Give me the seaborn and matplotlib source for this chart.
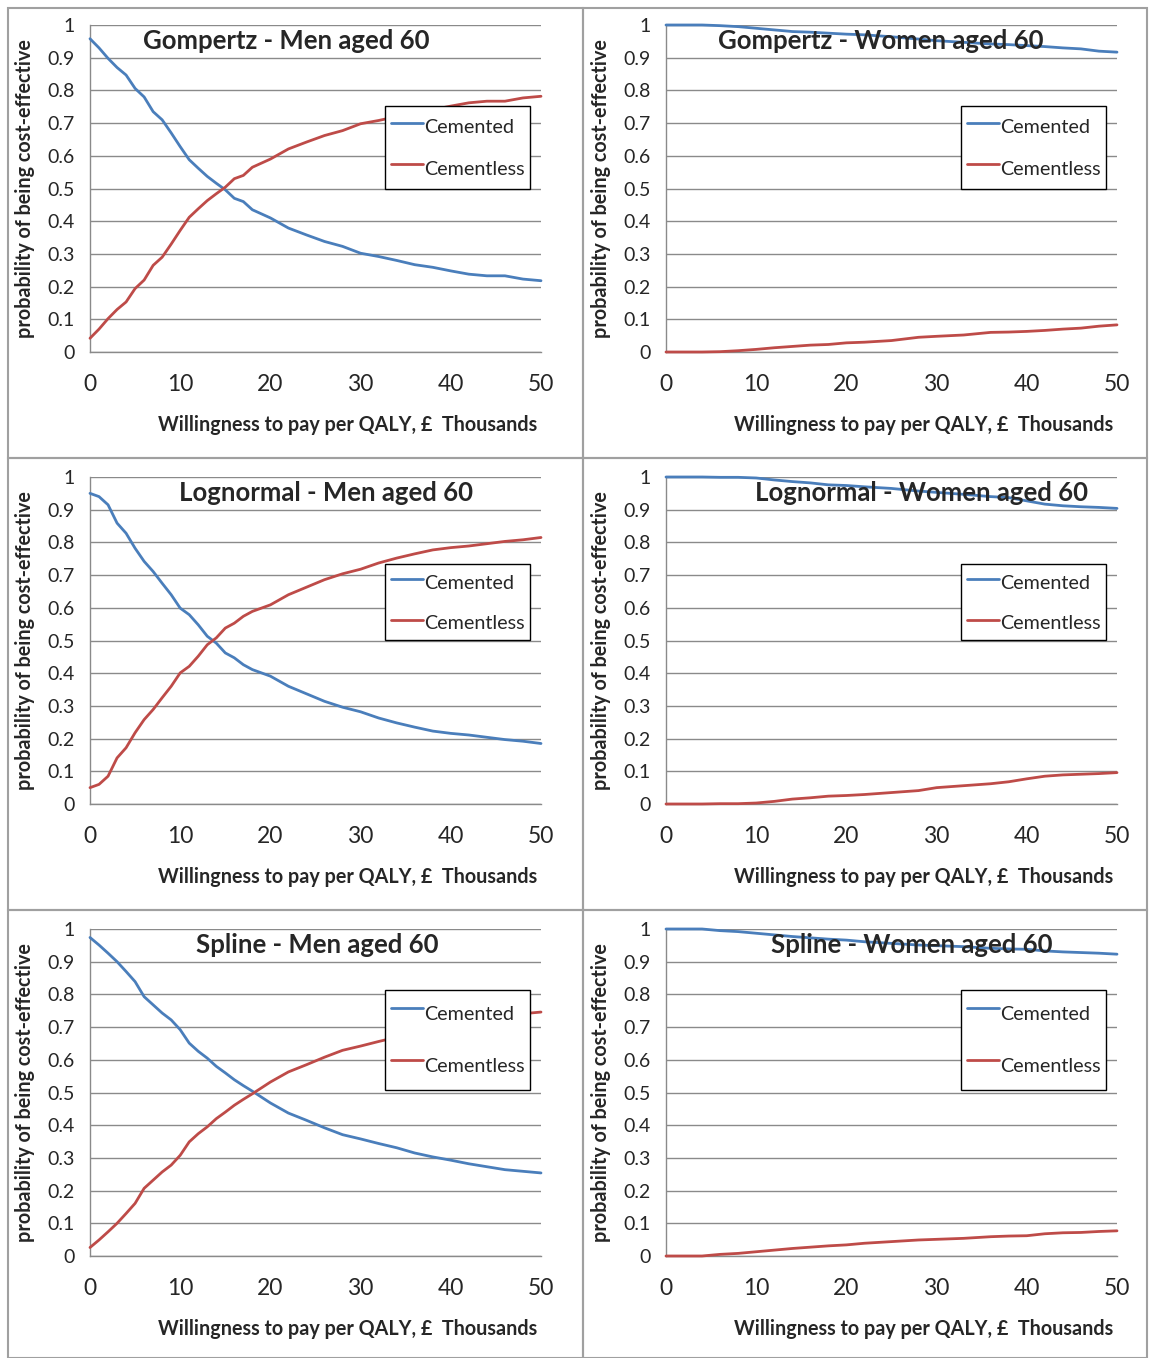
import numpy as np
import pandas as pd
import matplotlib
matplotlib.use('Agg')
import matplotlib.pyplot as plt
import seaborn as sns
from matplotlib.patches import Rectangle

# --- Datos (probabilidad de ser coste-efectivo) ---
# Eje x: disposición a pagar por AVAC, miles de £
wtp_hombres = list(range(0, 19)) + list(range(20, 51, 2))
wtp_mujeres = [0, 2, 4, 6, 8, 10, 12, 14, 16, 18, 20, 22, 25, 28, 30, 33, 36, 38, 40, 42, 44, 46, 48, 50]

# Gompertz - hombres
gomp_h_cemented = [0.958, 0.93, 0.898, 0.87, 0.847, 0.806, 0.78, 0.735, 0.71, 0.67, 0.628, 0.588, 0.562,
                   0.537, 0.516, 0.496, 0.47, 0.46, 0.435, 0.41, 0.379, 0.358, 0.338, 0.323, 0.302, 0.292,
                   0.28, 0.267, 0.259, 0.248, 0.238, 0.233, 0.233, 0.223, 0.218]
gomp_h_cementless = [0.042, 0.07, 0.102, 0.13, 0.153, 0.194, 0.22, 0.265, 0.29, 0.33, 0.372, 0.412, 0.438,
                     0.463, 0.484, 0.504, 0.53, 0.54, 0.565, 0.59, 0.621, 0.642, 0.662, 0.677, 0.698, 0.708,
                     0.72, 0.733, 0.741, 0.752, 0.762, 0.767, 0.767, 0.777, 0.782]

# Gompertz - mujeres
gomp_m_cemented = [1.0, 1.0, 1.0, 0.998, 0.995, 0.99, 0.985, 0.98, 0.978, 0.975, 0.972, 0.97, 0.964, 0.957,
                   0.952, 0.947, 0.942, 0.94, 0.937, 0.934, 0.93, 0.927, 0.92, 0.917]
gomp_m_cementless = [0.0, 0.0, 0.0, 0.001, 0.004, 0.008, 0.013, 0.017, 0.021, 0.023, 0.028, 0.03, 0.035,
                     0.045, 0.048, 0.052, 0.06, 0.061, 0.063, 0.066, 0.07, 0.073, 0.079, 0.083]

# Lognormal - hombres
logn_h_cemented = [0.95, 0.94, 0.915, 0.859, 0.828, 0.782, 0.742, 0.711, 0.675, 0.64, 0.599, 0.579, 0.548,
                   0.513, 0.492, 0.462, 0.447, 0.426, 0.411, 0.391, 0.36, 0.337, 0.314, 0.296, 0.282, 0.263,
                   0.248, 0.235, 0.223, 0.216, 0.211, 0.204, 0.197, 0.192, 0.185]
logn_h_cementless = [0.05, 0.06, 0.085, 0.141, 0.172, 0.218, 0.258, 0.289, 0.325, 0.36, 0.401, 0.421, 0.452,
                     0.487, 0.508, 0.538, 0.553, 0.574, 0.589, 0.609, 0.64, 0.663, 0.686, 0.704, 0.718, 0.737,
                     0.752, 0.765, 0.777, 0.784, 0.789, 0.796, 0.803, 0.808, 0.815]

# Lognormal - mujeres
logn_m_cemented = [1.0, 1.0, 1.0, 0.999, 0.999, 0.997, 0.991, 0.986, 0.982, 0.976, 0.974, 0.97, 0.965,
                   0.957, 0.953, 0.947, 0.94, 0.937, 0.927, 0.917, 0.912, 0.909, 0.907, 0.904]
logn_m_cementless = [0.0, 0.0, 0.0, 0.001, 0.001, 0.003, 0.008, 0.015, 0.019, 0.024, 0.026, 0.029, 0.035,
                     0.041, 0.05, 0.056, 0.062, 0.068, 0.077, 0.085, 0.089, 0.091, 0.093, 0.096]

# Spline - hombres
spl_h_cemented = [0.974, 0.951, 0.926, 0.9, 0.87, 0.839, 0.793, 0.768, 0.743, 0.722, 0.692, 0.651, 0.626,
                  0.605, 0.58, 0.56, 0.539, 0.521, 0.504, 0.468, 0.437, 0.415, 0.392, 0.371, 0.358, 0.344,
                  0.331, 0.315, 0.303, 0.293, 0.282, 0.273, 0.264, 0.259, 0.254]
spl_h_cementless = [0.026, 0.049, 0.074, 0.1, 0.13, 0.161, 0.207, 0.232, 0.257, 0.278, 0.308, 0.349, 0.374,
                    0.395, 0.42, 0.44, 0.461, 0.479, 0.496, 0.532, 0.563, 0.585, 0.608, 0.629, 0.642, 0.656,
                    0.669, 0.685, 0.697, 0.707, 0.718, 0.727, 0.736, 0.741, 0.746]

# Spline - mujeres
spl_m_cemented = [1.0, 1.0, 1.0, 0.995, 0.992, 0.987, 0.982, 0.977, 0.973, 0.969, 0.966, 0.961, 0.956,
                  0.951, 0.949, 0.946, 0.941, 0.939, 0.938, 0.933, 0.93, 0.928, 0.926, 0.923]
spl_m_cementless = [0.0, 0.0, 0.0, 0.005, 0.008, 0.013, 0.018, 0.023, 0.027, 0.031, 0.034, 0.039, 0.044,
                    0.049, 0.051, 0.054, 0.059, 0.061, 0.062, 0.068, 0.071, 0.072, 0.075, 0.077]

titulos = ['Gompertz - Men aged 60', 'Gompertz - Women aged 60',
           'Lognormal - Men aged 60', 'Lognormal - Women aged 60',
           'Spline - Men aged 60', 'Spline - Women aged 60']

AZUL = '#4A7EBB'
ROJO = '#BE4B48'
GRIS = '#8a8a8a'


def dibujar_panel(ax, titulo, x, cemented, cementless, titulo_x, leyenda_y, espaciado, alto_fila):
    """Dibuja una curva de aceptabilidad coste-efectividad al estilo Excel."""
    df = pd.DataFrame({
        'wtp': list(x) * 2,
        'prob': list(cemented) + list(cementless),
        'serie': ['Cemented'] * len(x) + ['Cementless'] * len(x),
    })
    sns.lineplot(data=df, x='wtp', y='prob', hue='serie', palette={'Cemented': AZUL, 'Cementless': ROJO},
                 linewidth=2.0, ax=ax, clip_on=False, zorder=3)

    ax.set_xlim(0, 50)
    ax.set_ylim(0, 1)
    ax.set_xticks(range(0, 51, 10))
    ax.set_yticks(np.round(np.arange(0, 1.01, 0.1), 1))
    ax.set_yticklabels(['0'] + [f'{v:.1f}' for v in np.arange(0.1, 0.95, 0.1)] + ['1'])
    ax.tick_params(axis='x', direction='out', length=4, width=1, color=GRIS, pad=12, labelsize=16.5)
    ax.tick_params(axis='y', direction='out', length=4, width=1, color=GRIS, pad=7, labelsize=14)

    ax.yaxis.grid(True, color=GRIS, linewidth=1)
    ax.xaxis.grid(False)
    for lado in ['top', 'right']:
        ax.spines[lado].set_visible(False)
    for lado in ['left', 'bottom']:
        ax.spines[lado].set_color(GRIS)
        ax.spines[lado].set_linewidth(1)

    ax.set_xlabel('')
    ax.set_ylabel('probability of being cost-effective', fontsize=14.2, fontweight='bold')
    ax.yaxis.set_label_coords(-0.122, 0.5)
    ax.text(0.991, -0.223, 'Willingness to pay per QALY, £  Thousands', transform=ax.transAxes,
            ha='right', va='center', fontsize=14.2, fontweight='bold')

    ax.text(titulo_x, 0.95, titulo, ha='center', va='center', fontsize=18.5, fontweight='bold', zorder=4)

    # Leyenda con caja negra, filas altas como en Excel
    leg = ax.legend(loc='upper left', bbox_to_anchor=(0.655, leyenda_y), fontsize=14.2, frameon=True,
                    fancybox=False, framealpha=1, edgecolor='black', handlelength=1.6, handletextpad=0.05,
                    handleheight=alto_fila, borderaxespad=0, borderpad=0.3, labelspacing=espaciado,
                    title=None)
    leg.get_frame().set_linewidth(1)
    leg.set_zorder(5)


def main():
    sns.set_style('white')
    plt.rcParams['font.family'] = ['Lato', 'DejaVu Sans']

    fig = plt.figure(figsize=(11.49, 13.58), dpi=100)
    W, H = 1149, 1358

    # Marcos grises de cada gráfico (área del gráfico de Excel)
    marcos = [(8, 8, 583, 458), (583, 8, 1147, 458),
              (8, 458, 583, 910), (583, 458, 1147, 910),
              (8, 910, 583, 1358), (583, 910, 1147, 1358)]
    for x0, y0, x1, y1 in marcos:
        fig.patches.append(Rectangle((x0 / W, 1 - y1 / H), (x1 - x0) / W, (y1 - y0) / H,
                                     transform=fig.transFigure, fill=False, edgecolor='#a0a0a0',
                                     linewidth=1.5))

    paneles = [
        (gomp_h_cemented, gomp_h_cementless, wtp_hombres, 21.8, 0.752, 0.61, 1.93),
        (gomp_m_cemented, gomp_m_cementless, wtp_mujeres, 23.8, 0.752, 0.61, 1.93),
        (logn_h_cemented, logn_h_cementless, wtp_hombres, 26.2, 0.734, 0.81, 1.52),
        (logn_m_cemented, logn_m_cementless, wtp_mujeres, 28.3, 0.734, 0.81, 1.52),
        (spl_h_cemented, spl_h_cementless, wtp_hombres, 25.2, 0.813, 0.76, 2.48),
        (spl_m_cemented, spl_m_cementless, wtp_mujeres, 27.2, 0.813, 0.76, 2.48),
    ]
    izquierdas = [90, 666]
    inferiores = [352, 804, 1256]

    for i, (cem, cemless, x, tx, ly, esp, hh) in enumerate(paneles):
        fila, col = divmod(i, 2)
        ax = fig.add_axes([izquierdas[col] / W, 1 - inferiores[fila] / H, 451 / W, 327 / H])
        dibujar_panel(ax, titulos[i], x, cem, cemless, tx, ly, esp, hh)

    fig.savefig('out.png', dpi=100)


if __name__ == '__main__':
    main()
